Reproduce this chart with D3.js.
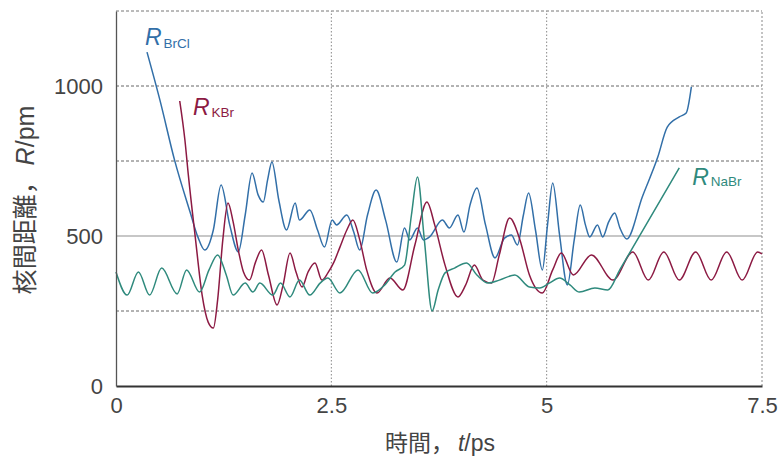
<!DOCTYPE html>
<html>
<head>
<meta charset="utf-8">
<script src="https://cdn.jsdelivr.net/npm/d3@7"></script>
<style>
  html, body { margin: 0; padding: 0; background: #fff; }
  svg { display: block; }
  text { font-family: "Liberation Sans", Arial, "Noto Sans CJK JP", sans-serif; fill: #444; }
</style>
</head>
<body>
<svg id="chart" width="780" height="461"></svg>
<script>
// Internuclear distance R(t) for three halide pairs
const tBrCl = [0.36,0.51,0.68,0.86,0.95,1.03,1.13,1.22,1.32,1.42,1.50,1.58,1.65,1.71,1.76,1.81,1.89,1.98,2.08,2.13,2.25,2.34,2.42,2.51,2.56,2.68,2.76,2.83,2.92,3.02,3.13,3.26,3.35,3.41,3.50,3.57,3.64,3.79,3.87,3.97,4.04,4.11,4.19,4.29,4.40,4.51,4.59,4.66,4.73,4.79,4.87,4.95,5.01,5.07,5.15,5.24,5.32,5.39,5.45,5.50,5.59,5.65,5.72,5.79,5.85,5.93,6.11,6.29,6.40,6.54,6.62,6.68];
const rBrCl = [1113,953,753,580,497,453,520,670,537,447,570,710,637,613,687,747,620,520,610,553,587,520,463,553,537,570,513,453,570,653,553,413,527,487,527,487,497,553,527,570,513,603,660,537,427,493,503,470,570,643,520,387,537,677,503,337,487,603,537,497,537,497,547,577,527,490,630,763,863,897,910,997];

const tKBr = [0.74,0.80,0.84,0.92,1.00,1.07,1.13,1.18,1.24,1.30,1.36,1.42,1.48,1.55,1.62,1.69,1.77,1.87,1.94,2.02,2.09,2.16,2.23,2.31,2.39,2.46,2.53,2.60,2.68,2.75,2.83,2.91,3.03,3.18,3.33,3.47,3.61,3.70,3.82,3.97,4.06,4.16,4.26,4.36,4.45,4.57,4.69,4.80,4.95,5.07,5.17,5.31,5.52,5.77,6.00,6.18,6.36,6.54,6.73,6.91,7.09,7.27,7.45,7.50];
const rKBr = [950,820,703,497,303,213,193,287,487,610,547,453,380,353,413,453,370,270,337,443,380,330,380,410,353,377,413,463,520,553,487,387,310,360,320,470,613,537,403,297,337,403,353,343,437,560,487,370,310,387,443,370,437,353,447,353,447,353,447,353,447,353,447,440];

const tNaBr = [0,0.13,0.26,0.39,0.53,0.71,0.82,0.97,1.08,1.18,1.28,1.36,1.50,1.59,1.67,1.82,1.91,2.02,2.13,2.25,2.37,2.46,2.60,2.81,2.98,3.12,3.24,3.35,3.43,3.50,3.58,3.67,3.74,3.82,3.93,4.07,4.19,4.32,4.45,4.63,4.80,4.92,5.03,5.15,5.27,5.38,5.56,5.71,5.85,6.54];
const rNaBr = [380,303,380,303,393,307,387,313,387,437,370,303,343,313,343,303,343,297,353,303,343,360,310,387,310,337,380,403,570,697,487,250,320,377,393,410,370,343,353,370,330,327,343,360,337,313,327,320,388,727];

const xTicks = [0, 2.5, 5, 7.5];
const xTickLabels = ["0", "2.5", "5", "7.5"];
const yTicks = [0, 500, 1000];
const yGridDashed = [250, 750, 1000];
const yGridSolid = [500];
const xGrid = [2.5, 5];

const svg = d3.select("#chart");
const x = d3.scaleLinear().domain([0, 7.5]).range([116, 762]);
const y = d3.scaleLinear().domain([0, 1250]).range([386, 11]);

// grid
const grid = svg.append("g");
grid.selectAll("line.hd").data(yGridDashed).join("line")
  .attr("x1", x(0)).attr("x2", x(7.5))
  .attr("y1", d => y(d)).attr("y2", d => y(d))
  .attr("stroke", "#666").attr("stroke-width", 1).attr("stroke-dasharray", "3,2");
grid.selectAll("line.hs").data(yGridSolid).join("line")
  .attr("x1", x(0)).attr("x2", x(7.5))
  .attr("y1", d => y(d)).attr("y2", d => y(d))
  .attr("stroke", "#8f8f8f").attr("stroke-width", 1);
grid.selectAll("line.v").data(xGrid).join("line")
  .attr("x1", d => x(d)).attr("x2", d => x(d))
  .attr("y1", y(0)).attr("y2", y(1250))
  .attr("stroke", "#888").attr("stroke-width", 1).attr("stroke-dasharray", "1.5,2");
// frame: dashed top and right edges
grid.append("line").attr("x1", x(0)).attr("x2", x(7.5)).attr("y1", y(1250)).attr("y2", y(1250))
  .attr("stroke", "#777").attr("stroke-width", 1).attr("stroke-dasharray", "3,2");
grid.append("line").attr("x1", x(7.5)).attr("x2", x(7.5)).attr("y1", y(0)).attr("y2", y(1250))
  .attr("stroke", "#888").attr("stroke-width", 1).attr("stroke-dasharray", "2,2");

// series
const series = [
  { t: tBrCl, r: rBrCl, color: "#326fa8" },
  { t: tKBr,  r: rKBr,  color: "#8c1a43" },
  { t: tNaBr, r: rNaBr, color: "#2f8a7d" }
];
const line = d3.line().x(d => x(d[0])).y(d => y(d[1])).curve(d3.curveMonotoneX);
svg.append("g").selectAll("path").data(series).join("path")
  .attr("d", s => line(s.t.map((t, i) => [t, s.r[i]])))
  .attr("fill", "none").attr("stroke", s => s.color)
  .attr("stroke-width", 1.5).attr("stroke-linejoin", "round");

// axes
const xAxis = svg.append("g").attr("transform", `translate(0,${y(0)})`)
  .call(d3.axisBottom(x).tickValues(xTicks).tickFormat((d, i) => xTickLabels[i])
    .tickSize(0).tickSizeOuter(0).tickPadding(11));
xAxis.select(".domain").attr("stroke", "#333").attr("stroke-width", 2);
xAxis.selectAll("text").style("font-size", "22px").attr("fill", "#444");

const yAxis = svg.append("g").attr("transform", `translate(${x(0)},0)`)
  .call(d3.axisLeft(y).tickValues(yTicks).tickFormat(d3.format("d"))
    .tickSize(0).tickSizeOuter(0).tickPadding(13));
yAxis.select(".domain").attr("stroke", "#555").attr("stroke-width", 1.3);
yAxis.selectAll("text").style("font-size", "22px").attr("fill", "#444");

// axis titles
const xt = svg.append("text").attr("x", 440).attr("y", 451).attr("text-anchor", "middle")
  .style("font-size", "23px");
xt.append("tspan").text("時間，");
xt.append("tspan").attr("dx", 4).style("font-style", "italic").text("t");
xt.append("tspan").text("/ps");

const yt = svg.append("text").attr("transform", "translate(34,200) rotate(-90)")
  .attr("text-anchor", "middle").style("font-size", "25px");
yt.append("tspan").text("核間距離，");
yt.append("tspan").attr("dx", 4).style("font-style", "italic").text("R");
yt.append("tspan").text("/pm");

// curve labels
const labels = [
  { t: 0.336, r: 1137, sub: "BrCl", color: "#326fa8", dy: 3 },
  { t: 0.893, r: 903,  sub: "KBr",  color: "#8c1a43", dy: 2 },
  { t: 6.69,  r: 670,  sub: "NaBr", color: "#2f8a7d", dy: 1 }
];
labels.forEach(l => {
  const tx = svg.append("text").attr("x", x(l.t)).attr("y", y(l.r));
  tx.append("tspan").style("font-style", "italic").style("font-size", "23px")
    .style("fill", l.color).text("R");
  tx.append("tspan").attr("dx", 2).attr("dy", l.dy).style("font-size", "13.5px")
    .style("fill", l.color).text(l.sub);
});
</script>
</body>
</html>
